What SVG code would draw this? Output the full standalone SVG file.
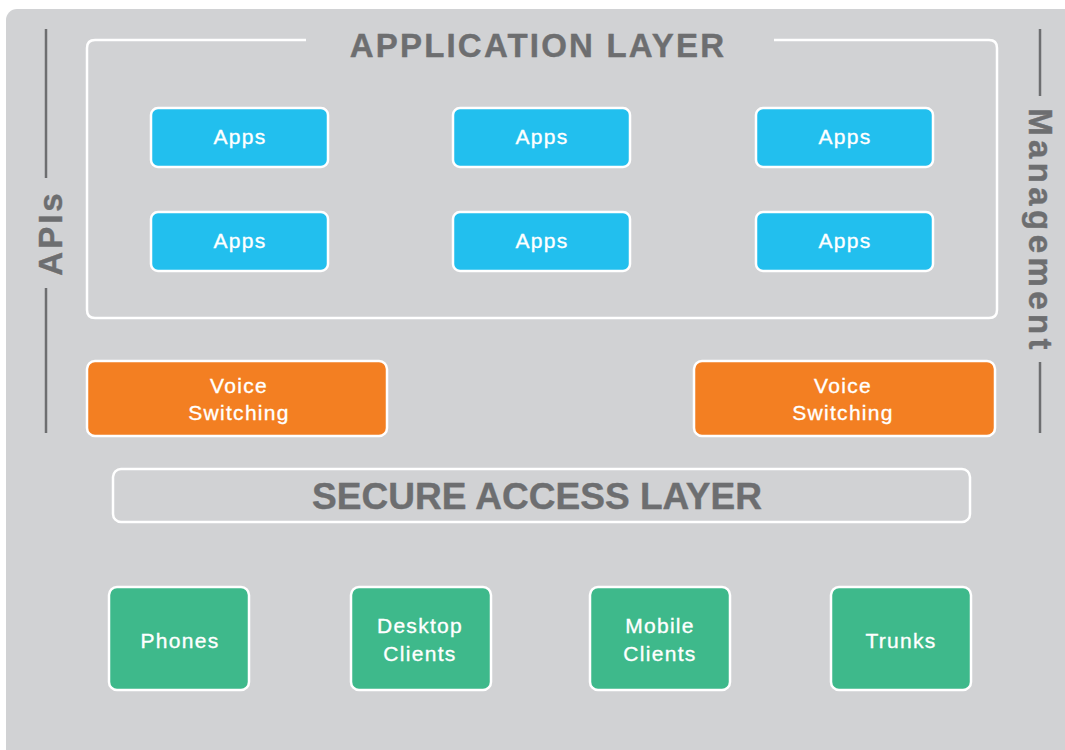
<svg xmlns="http://www.w3.org/2000/svg" width="1065" height="750" viewBox="0 0 1065 750">
  <style>
    .box { stroke: #ffffff; stroke-width: 2.5; }
    .app { fill: #22bfee; }
    .voice { fill: #f37f22; }
    .client { fill: #3eb98b; }
    .lbl { font-family: "Liberation Sans", Arial, sans-serif; font-size: 21px; fill: #ffffff; stroke: #ffffff; stroke-width: 0.35; text-anchor: middle; letter-spacing: 1.3px; }
    .title { font-family: "Liberation Sans", Arial, sans-serif; font-weight: bold; fill: #6d6e70; stroke: #6d6e70; stroke-width: 0.4; text-anchor: middle; }
    .rule { stroke: #6d6e70; stroke-width: 2.5; }
    .frame { fill: none; stroke: #ffffff; stroke-width: 2.5; }
  </style>
  <rect x="0" y="0" width="1065" height="750" fill="#ffffff"/>
  <rect x="6" y="9" width="1080" height="760" rx="11" fill="#d1d2d4"/>

  <g id="apis">
    <line class="rule" x1="46" y1="29" x2="46" y2="178"/>
    <line class="rule" x1="46" y1="288" x2="46" y2="433"/>
    <text class="title" transform="translate(62,233) rotate(-90)" font-size="33" letter-spacing="3">APIs</text>
  </g>

  <g id="management">
    <line class="rule" x1="1040" y1="29" x2="1040" y2="96"/>
    <line class="rule" x1="1040" y1="362" x2="1040" y2="433"/>
    <text class="title" transform="translate(1029,231) rotate(90)" font-size="33" letter-spacing="4.4">Management</text>
  </g>

  <g id="application-layer">
    <path class="frame" d="M306,40 H95 Q87,40 87,48 V310 Q87,318 95,318 H989 Q997,318 997,310 V48 Q997,40 989,40 H774"/>
    <text class="title" x="538" y="57" font-size="33" letter-spacing="2.2">APPLICATION LAYER</text>
  </g>

  <g id="app-1"><rect class="box app" x="151" y="108" width="177" height="59" rx="7"/><text class="lbl" x="240" y="144">Apps</text></g>
  <g id="app-2"><rect class="box app" x="453" y="108" width="177" height="59" rx="7"/><text class="lbl" x="542" y="144">Apps</text></g>
  <g id="app-3"><rect class="box app" x="756" y="108" width="177" height="59" rx="7"/><text class="lbl" x="845" y="144">Apps</text></g>
  <g id="app-4"><rect class="box app" x="151" y="212" width="177" height="59" rx="7"/><text class="lbl" x="240" y="248">Apps</text></g>
  <g id="app-5"><rect class="box app" x="453" y="212" width="177" height="59" rx="7"/><text class="lbl" x="542" y="248">Apps</text></g>
  <g id="app-6"><rect class="box app" x="756" y="212" width="177" height="59" rx="7"/><text class="lbl" x="845" y="248">Apps</text></g>

  <g id="voice-1"><rect class="box voice" x="87" y="361" width="300" height="75" rx="8"/><text class="lbl" x="239" y="393">Voice</text><text class="lbl" x="239" y="420">Switching</text></g>
  <g id="voice-2"><rect class="box voice" x="694" y="361" width="301" height="75" rx="8"/><text class="lbl" x="843" y="393">Voice</text><text class="lbl" x="843" y="420">Switching</text></g>

  <g id="secure-access-layer">
    <rect class="frame" x="113" y="469" width="857" height="53" rx="8"/>
    <text class="title" x="537" y="509" font-size="36" textLength="450" lengthAdjust="spacingAndGlyphs">SECURE ACCESS LAYER</text>
  </g>

  <g id="phones"><rect class="box client" x="109" y="587" width="140" height="103" rx="8"/><text class="lbl" x="180" y="648">Phones</text></g>
  <g id="desktop-clients"><rect class="box client" x="351" y="587" width="140" height="103" rx="8"/><text class="lbl" x="420" y="633">Desktop</text><text class="lbl" x="420" y="661">Clients</text></g>
  <g id="mobile-clients"><rect class="box client" x="590" y="587" width="140" height="103" rx="8"/><text class="lbl" x="660" y="633">Mobile</text><text class="lbl" x="660" y="661">Clients</text></g>
  <g id="trunks"><rect class="box client" x="831" y="587" width="140" height="103" rx="8"/><text class="lbl" x="901" y="648">Trunks</text></g>

  <g id="connectors"></g>
</svg>
